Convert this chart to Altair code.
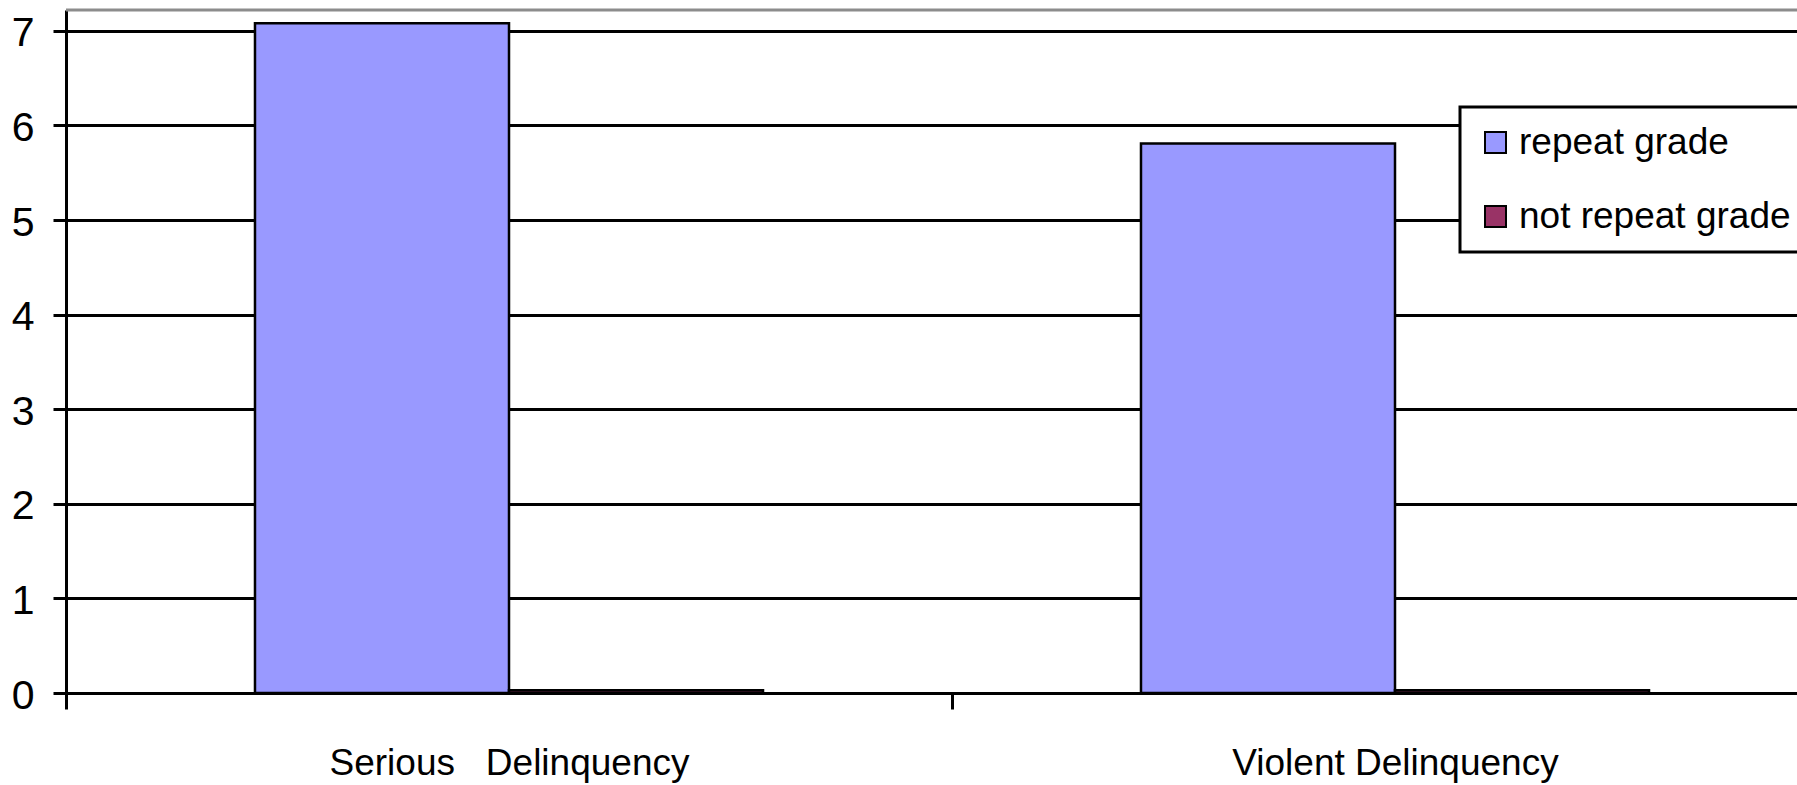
import altair as alt
import pandas as pd

categories = ["Serious\u00a0\u00a0\u00a0Delinquency", "Violent Delinquency"]
series = ["repeat grade", "not repeat grade"]
repeat_grade = [7.08, 5.81]
not_repeat_grade = [0.03, 0.03]
y_ticks = [0, 1, 2, 3, 4, 5, 6, 7]
colors = ["#9999FF", "#993366"]

rows = []
for i, c in enumerate(categories):
    rows.append({"category": c, "series": series[0], "value": repeat_grade[i]})
    rows.append({"category": c, "series": series[1], "value": not_repeat_grade[i]})
df = pd.DataFrame(rows)

FONT = "Liberation Sans"

bars = alt.Chart(df).mark_bar(stroke="black", strokeWidth=2.5).encode(
    x=alt.X(
        "category:N",
        sort=categories,
        scale=alt.Scale(domain=categories, range=[0, 1772], paddingInner=0, paddingOuter=0),
        axis=alt.Axis(
            title=None, labelAngle=0, tickBand="extent", grid=False,
            domainColor="black", domainWidth=3, tickColor="black", tickWidth=3, tickSize=16,
            labelFont=FONT, labelFontSize=37, labelColor="black", labelLimit=0,
            labelBaseline="alphabetic", labelPadding=65,
        ),
    ),
    xOffset=alt.XOffset(
        "series:N", sort=series,
        scale=alt.Scale(domain=series, paddingInner=0, paddingOuter=0.744),
    ),
    y=alt.Y(
        "value:Q",
        scale=alt.Scale(domain=[0, 7.22], nice=False, zero=True),
        axis=alt.Axis(
            title=None, values=y_ticks, grid=True, gridColor="black", gridWidth=3,
            domainColor="black", domainWidth=3, tickColor="black", tickWidth=3, tickSize=13,
            labelFont=FONT, labelFontSize=41, labelColor="black", labelPadding=19,
            labelOffset=3,
        ),
    ),
    color=alt.Color(
        "series:N",
        scale=alt.Scale(domain=series, range=colors),
        legend=alt.Legend(
            title=None, orient="none", legendX=1394, legendY=97,
            padding=17, strokeColor="black", fillColor="white",
            symbolType="square", symbolSize=441, symbolStrokeColor="black", symbolStrokeWidth=2,
            labelFont=FONT, labelFontSize=37, labelColor="black", labelOffset=5,
            labelLimit=0, rowPadding=36,
        ),
    ),
)

top_line = alt.Chart(pd.DataFrame({"k": [0]})).mark_rule(color="#8c8c8c", strokeWidth=3).encode(
    y=alt.value(0)
)

chart = alt.layer(bars, top_line).properties(
    width=1731,
    height=683,
    autosize=alt.AutoSizeParams(type="none"),
    padding={"left": 66, "top": 10, "right": 0, "bottom": 92},
    background="white",
).configure_view(strokeWidth=0).configure_legend(strokeWidth=3)

chart.save("out.html", embed_options={"renderer": "svg", "actions": False})
